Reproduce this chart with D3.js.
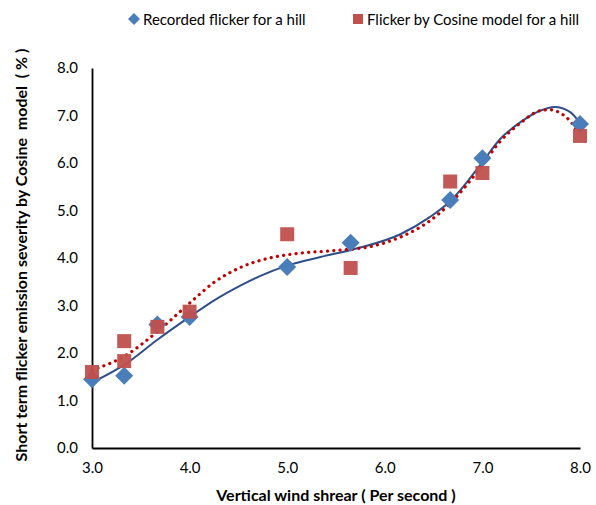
<!DOCTYPE html>
<html><head><meta charset="utf-8">
<script src="https://cdn.jsdelivr.net/npm/d3@7"></script>
<style>body{margin:0;background:#fff}svg{display:block}text{font-family:Lato,"Open Sans",sans-serif;fill:#000}</style>
</head><body><svg id="c" width="596" height="505"></svg>
<script>
const recordedX = [3.0, 3.33, 3.67, 4.0, 5.0, 5.65, 6.67, 7.0, 8.0];
const recordedY = [1.45, 1.52, 2.6, 2.76, 3.81, 4.32, 5.22, 6.1, 6.82];
const cosineX = [3.0, 3.33, 3.33, 3.67, 4.0, 5.0, 5.65, 6.67, 7.0, 8.0];
const cosineY = [1.6, 2.25, 1.83, 2.55, 2.87, 4.5, 3.79, 5.61, 5.79, 6.57];
const trendRecX = [3.0, 3.33, 3.67, 4.0, 4.26, 4.52, 4.72, 5.0, 5.34, 5.69, 6.16, 6.46, 6.66, 6.77, 7.0, 7.18, 7.39, 7.59, 7.74, 7.9, 8.0];
const trendRecY = [1.38, 1.75, 2.28, 2.76, 3.12, 3.42, 3.62, 3.84, 4.02, 4.19, 4.5, 4.86, 5.18, 5.42, 6.02, 6.5, 6.86, 7.1, 7.18, 7.07, 6.84];
const trendCosX = [3.0, 3.33, 3.67, 4.0, 4.26, 4.52, 4.82, 5.13, 5.44, 5.85, 6.16, 6.46, 6.67, 6.98, 7.18, 7.39, 7.59, 7.69, 7.8, 7.9, 7.98];
const trendCosY = [1.64, 1.93, 2.45, 3.05, 3.5, 3.8, 4.0, 4.1, 4.15, 4.24, 4.44, 4.78, 5.15, 5.9, 6.45, 6.84, 7.1, 7.12, 7.05, 6.88, 6.65];
const xTicks = [3, 4, 5, 6, 7, 8];
const yTicks = [0, 1, 2, 3, 4, 5, 6, 7, 8];
const legendLabels = ["Recorded flicker for a hill", "Flicker by Cosine model for a hill"];
const xTitle = "Vertical wind shrear ( Per second )";
const yTitle = "Short term flicker emission severity by Cosine  model  ( % )";

const svg = d3.select("#c");
const L = 92, R = 580, T = 68, B = 448;
const x = d3.scaleLinear().domain([3, 8]).range([L, R]);
const y = d3.scaleLinear().domain([0, 8]).range([B, T]);

// axes
const xa = svg.append("g").attr("transform", `translate(0,${B})`)
  .call(d3.axisBottom(x).tickValues(xTicks).tickFormat(d3.format(".1f")).tickSize(0).tickPadding(14));
const ya = svg.append("g").attr("transform", `translate(${L},0)`)
  .call(d3.axisLeft(y).tickValues(yTicks).tickFormat(d3.format(".1f")).tickSize(0).tickPadding(14));
[xa, ya].forEach(a => {
  a.select(".domain").attr("stroke", "#000").attr("stroke-width", 1.8);
  a.selectAll("text").style("font-size", "15px").style("font-family", "Lato,'Open Sans',sans-serif").attr("fill", "#404040");
});

// trendlines
const line = d3.line().curve(d3.curveMonotoneX);
svg.append("path")
  .attr("d", line(trendRecX.map((v, i) => [x(v), y(trendRecY[i])])))
  .attr("fill", "none").attr("stroke", "#2F4F8A").attr("stroke-width", 2);
svg.append("path")
  .attr("d", line(trendCosX.map((v, i) => [x(v), y(trendCosY[i])])))
  .attr("fill", "none").attr("stroke", "#C00000").attr("stroke-width", 3.2)
  .attr("stroke-dasharray", "0.1 6.2").attr("stroke-linecap", "round");

// points
const dsz = 9;
svg.append("g").selectAll("path").data(recordedX).join("path")
  .attr("d", (d, i) => {
    const cx = x(d), cy = y(recordedY[i]);
    return `M${cx},${cy - dsz}L${cx + dsz},${cy}L${cx},${cy + dsz}L${cx - dsz},${cy}Z`;
  })
  .attr("fill", "#4A7EBB");
const ss = 14;
svg.append("g").selectAll("rect").data(cosineX).join("rect")
  .attr("x", d => x(d) - ss / 2)
  .attr("y", (d, i) => y(cosineY[i]) - ss / 2)
  .attr("width", ss).attr("height", ss)
  .attr("fill", "#C0504D").attr("fill-opacity", 0.95);

// legend
const lg = svg.append("g");
lg.append("path").attr("d", "M134,13L140,19L134,25L128,19Z").attr("fill", "#4A7EBB");
lg.append("text").attr("x", 143).attr("y", 24.5).style("font-size", "15px").attr("fill", "#404040").text(legendLabels[0]);
lg.append("rect").attr("x", 353).attr("y", 14).attr("width", 10).attr("height", 10).attr("fill", "#C0504D");
lg.append("text").attr("x", 367).attr("y", 24.5).style("font-size", "15px").attr("fill", "#404040").text(legendLabels[1]);

// titles
svg.append("text").attr("x", 336).attr("y", 501).attr("text-anchor", "middle")
  .style("font-size", "16px").style("font-weight", "bold").style("white-space", "pre").text(xTitle);
svg.append("text").attr("transform", "translate(27,255) rotate(-90)").attr("text-anchor", "middle")
  .style("font-size", "16px").style("font-weight", "bold").style("white-space", "pre").text(yTitle);
</script></body></html>
